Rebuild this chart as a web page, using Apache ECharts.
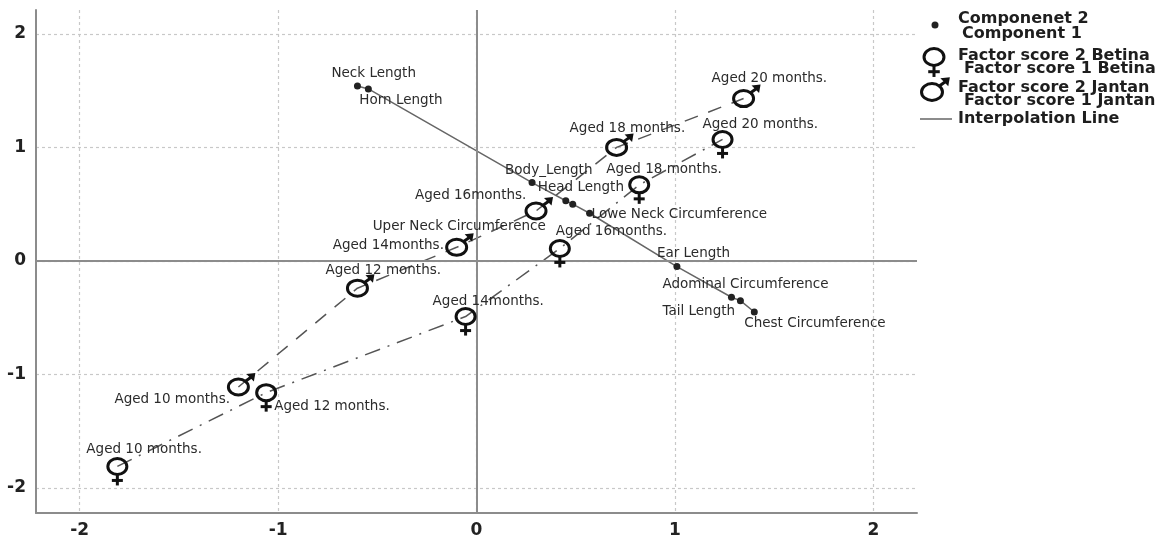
<!DOCTYPE html>
<html>
<head>
<meta charset="utf-8">
<script src="https://cdn.jsdelivr.net/npm/echarts@6/dist/echarts.min.js"></script>
<style>
html,body{margin:0;padding:0;background:#fff;}
#chart{width:1170px;height:542px;}
</style>
</head>
<body>
<div id="chart"></div>
<script>
// ---------------- DATA ----------------
const xTicks = [-2, -1, 0, 1, 2];
const yTicks = [-2, -1, 0, 1, 2];

const componentNames = ['Neck Length', 'Horn Length', 'Body_Length', 'Head Length', 'Uper Neck Circumference',
  'Lowe Neck Circumference', 'Ear Length', 'Adominal Circumference', 'Tail Length', 'Chest Circumference'];
const componentX = [-0.60, -0.545, 0.28, 0.45, 0.485, 0.57, 1.01, 1.285, 1.33, 1.40];
const componentY = [1.54, 1.515, 0.69, 0.53, 0.50, 0.42, -0.05, -0.32, -0.35, -0.45];

const betinaNames = ['Aged 10 months.', 'Aged 12 months.', 'Aged 14months.', 'Aged 16months.', 'Aged 18 months.', 'Aged 20 months.'];
const betinaX = [-1.81, -1.06, -0.055, 0.42, 0.82, 1.24];
const betinaY = [-1.81, -1.16, -0.49, 0.11, 0.67, 1.07];

const jantanNames = ['Aged 10 months.', 'Aged 12 months.', 'Aged 14months.', 'Aged 16months.', 'Aged 18 months.', 'Aged 20 months.'];
const jantanX = [-1.20, -0.60, -0.10, 0.30, 0.706, 1.346];
const jantanY = [-1.11, -0.24, 0.12, 0.44, 1.00, 1.43];

const legendLines = [
  ['Componenet 2', 'Component 1'],
  ['Factor score 2 Betina', 'Factor score 1 Betina'],
  ['Factor score 2 Jantan', 'Factor score 1 Jantan'],
  ['Interpolation Line']
];

// ---------------- LAYOUT (label offsets in px, text left edge / middle) ----------------
const compLabelOff = [[-26,-13],[-9,12],[-27,-12],[-28,-13],[-200,22],[2,1],[-20,-13],[-69,-13],[-78,11],[-10,11]];
const betinaLabelOff = [[-31,-17],[8,14],[-33,-15],[-4,-17],[-33,-15],[-20,-15]];
const jantanLabelOff = [[-124,13],[-32,-18],[-124,-2],[-121,-15],[-47,-19],[-32,-20]];

const INK = '#111';
const TXT = '#2b2b2b';
const LABEL_FONT = {fontFamily: 'DejaVu Sans', fontSize: 13.5, fill: TXT};

function zip(xs, ys) { return xs.map((x, i) => [x, ys[i]]); }

function femaleGlyph(cx, cy, k) {
  k = k || 1;
  return [
    {type: 'ellipse', shape: {cx: cx, cy: cy, rx: 9.5 * k, ry: 8 * k}, style: {fill: 'none', stroke: INK, lineWidth: 3}},
    {type: 'line', shape: {x1: cx, y1: cy + 8 * k, x2: cx, y2: cy + 19 * k}, style: {stroke: INK, lineWidth: 3}},
    {type: 'line', shape: {x1: cx - 5.5 * k, y1: cy + 14 * k, x2: cx + 5.5 * k, y2: cy + 14 * k}, style: {stroke: INK, lineWidth: 3}}
  ];
}
function maleGlyph(cx, cy, k) {
  k = k || 1;
  return [
    {type: 'ellipse', shape: {cx: cx, cy: cy, rx: 10 * k, ry: 8 * k}, style: {fill: 'none', stroke: INK, lineWidth: 3}},
    {type: 'line', shape: {x1: cx + 6 * k, x2: cx + 13 * k, y1: cy - 5 * k, y2: cy - 10 * k}, style: {stroke: INK, lineWidth: 3}},
    {type: 'polygon', shape: {points: [[cx + 17 * k, cy - 14 * k], [cx + 8 * k, cy - 13 * k], [cx + 15.5 * k, cy - 5.5 * k]]}, style: {fill: INK}}
  ];
}

function glyphSeries(name, xs, ys, names, offs, glyphFn, lineType) {
  return [
    {
      name: name + ' line', type: 'line', data: zip(xs, ys), showSymbol: false, symbol: 'none',
      lineStyle: {color: '#555', width: 1.5, type: lineType}, z: 3, silent: true
    },
    {
      name: name, type: 'custom', data: zip(xs, ys), z: 5, silent: true,
      renderItem: function (params, api) {
        const p = api.coord([api.value(0), api.value(1)]);
        const i = params.dataIndex;
        const ch = glyphFn(p[0], p[1]);
        ch.push({type: 'text', x: p[0] + offs[i][0], y: p[1] + offs[i][1],
          style: Object.assign({text: names[i], align: 'left', verticalAlign: 'middle'}, LABEL_FONT)});
        return {type: 'group', children: ch};
      }
    }
  ];
}

// legend graphic
function legendGraphic() {
  const g = [];
  const tStyle = {fontFamily: 'DejaVu Sans', fontWeight: 'bold', fontSize: 16, fill: '#1e1e1e', verticalAlign: 'middle'};
  const rows = [[19, 34], [56, 69], [88, 101], [119]];
  const x2 = [958, 958, 958, 958];
  const x1 = [962, 964, 964];
  legendLines.forEach((lines, k) => {
    g.push({type: 'text', x: x2[k], y: rows[k][0], style: Object.assign({text: lines[0]}, tStyle)});
    if (lines[1]) g.push({type: 'text', x: x1[k], y: rows[k][1], style: Object.assign({text: lines[1]}, tStyle)});
  });
  g.push({type: 'circle', shape: {cx: 935, cy: 25, r: 3.5}, style: {fill: '#222'}});
  femaleGlyph(934, 57, 1.05).forEach(e => g.push(e));
  maleGlyph(932, 92, 1.05).forEach(e => g.push(e));
  g.push({type: 'line', shape: {x1: 920, y1: 119, x2: 952, y2: 119}, style: {stroke: '#666', lineWidth: 1.5}});
  return g;
}

const chart = echarts.init(document.getElementById('chart'), null, {renderer: 'canvas'});
const gridStyle = {show: true, lineStyle: {type: [3, 3], color: '#c8c8c8', width: 1.2}};
const axisLineStyle = {show: true, onZero: false, lineStyle: {color: '#8c8c8c', width: 2}};
const axisLabelStyle = {fontFamily: 'DejaVu Sans', fontWeight: 'bold', fontSize: 17, color: '#222'};

const option = {
  animation: false,
  backgroundColor: '#fff',
  grid: {left: 36, right: 253, top: 10, bottom: 29, containLabel: false},
  xAxis: {
    type: 'value', min: -2.22, max: 2.22,
    axisLine: axisLineStyle,
    axisTick: {show: false, customValues: xTicks},
    axisLabel: Object.assign({customValues: xTicks, margin: 9}, axisLabelStyle),
    splitLine: gridStyle
  },
  yAxis: {
    type: 'value', min: -2.22, max: 2.21,
    axisLine: axisLineStyle,
    axisTick: {show: false, customValues: yTicks},
    axisLabel: Object.assign({customValues: yTicks, margin: 10}, axisLabelStyle),
    splitLine: gridStyle
  },
  graphic: legendGraphic(),
  series: [
    {
      name: 'Interpolation Line', type: 'line', data: zip(componentX, componentY), symbol: 'none',
      lineStyle: {color: '#666', width: 1.5}, z: 3, silent: true,
      markLine: {
        silent: true, symbol: 'none', label: {show: false},
        lineStyle: {color: '#8c8c8c', width: 2, type: 'solid'},
        data: [{xAxis: 0}, {yAxis: 0}]
      }
    },
    {
      name: 'Components', type: 'custom', data: zip(componentX, componentY), z: 6, silent: true,
      renderItem: function (params, api) {
        const p = api.coord([api.value(0), api.value(1)]);
        const i = params.dataIndex;
        return {type: 'group', children: [
          {type: 'circle', shape: {cx: p[0], cy: p[1], r: 3.5}, style: {fill: '#222'}},
          {type: 'text', x: p[0] + compLabelOff[i][0], y: p[1] + compLabelOff[i][1],
            style: Object.assign({text: componentNames[i], align: 'left', verticalAlign: 'middle'}, LABEL_FONT)}
        ]};
      }
    }
  ].concat(
    glyphSeries('Jantan', jantanX, jantanY, jantanNames, jantanLabelOff, maleGlyph, [14, 11]),
    glyphSeries('Betina', betinaX, betinaY, betinaNames, betinaLabelOff, femaleGlyph, [16, 8, 2, 8])
  )
};
chart.setOption(option);
</script>
</body>
</html>
